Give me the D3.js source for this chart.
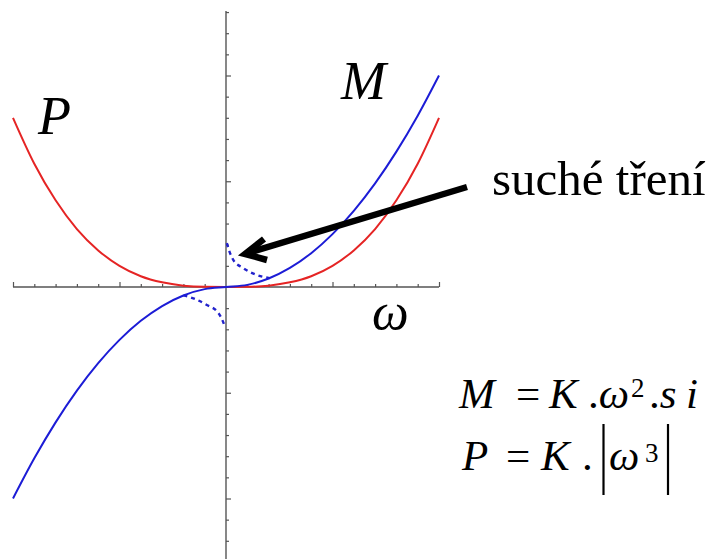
<!DOCTYPE html>
<html>
<head>
<meta charset="utf-8">
<script src="https://cdn.jsdelivr.net/npm/d3@7"></script>
<style>
  html, body { margin: 0; padding: 0; background: #fff; }
  svg { display: block; }
  text { font-family: "Liberation Serif", "Times New Roman", serif; fill: #000; }
</style>
</head>
<body>
<svg id="chart" width="706" height="559"></svg>
<script>
// angular speed samples
const omega = [-1, -0.9, -0.8, -0.7, -0.6, -0.5, -0.4, -0.3, -0.2, -0.1, 0,
               0.1, 0.2, 0.3, 0.4, 0.5, 0.6, 0.7, 0.8, 0.9, 1];
// torque M (blue)
const torqueM = [-1, -0.81, -0.64, -0.49, -0.36, -0.25, -0.16, -0.09, -0.04, -0.01, 0,
                 0.01, 0.04, 0.09, 0.16, 0.25, 0.36, 0.49, 0.64, 0.81, 1];
// power P (red)
const powerP = [0.8, 0.583, 0.41, 0.274, 0.173, 0.1, 0.051, 0.022, 0.0064, 0.0008, 0,
                0.0008, 0.0064, 0.022, 0.051, 0.1, 0.173, 0.274, 0.41, 0.583, 0.8];
// dry friction branches (dashed blue)
const frictionUpW = [0.004, 0.019, 0.034, 0.08, 0.144, 0.205];
const frictionUpM = [0.207, 0.16, 0.128, 0.09, 0.057, 0.042];
const frictionDownW = [-0.004, -0.02, -0.038, -0.09, -0.15, -0.2];
const frictionDownM = [-0.19, -0.15, -0.12, -0.085, -0.055, -0.04];
// axis tick values
const xTicks = d3.range(-10, 11).filter(d => d !== 0).map(d => d / 10);
const yTicks = d3.range(-12, 14).filter(d => d !== 0).map(d => d / 10);

const svg = d3.select("#chart");

const x = d3.scaleLinear().domain([-1, 1]).range([13, 439]);
const y = d3.scaleLinear().domain([-1, 1]).range([498.5, 75.5]);

const isMajor = v => Math.abs(Math.round(v * 10) % 5) === 0;

// x axis, ticks pointing up
const xAxis = svg.append("g").attr("transform", `translate(0,${y(0)})`)
  .call(d3.axisTop(x).tickValues(xTicks).tickFormat("").tickSizeOuter(0));
xAxis.select(".domain").remove();
xAxis.selectAll(".tick line")
  .attr("y2", d => isMajor(d) ? -5 : -3)
  .attr("stroke", "#555").attr("stroke-width", 1.2);
svg.append("line")
  .attr("x1", x(-1)).attr("x2", x(1))
  .attr("y1", y(0)).attr("y2", y(0))
  .attr("stroke", "#555").attr("stroke-width", 1.4);

// y axis, ticks pointing right
const yAxis = svg.append("g").attr("transform", `translate(${x(0)},0)`)
  .call(d3.axisRight(y).tickValues(yTicks).tickFormat("").tickSizeOuter(0));
yAxis.select(".domain").remove();
yAxis.selectAll(".tick line")
  .attr("x2", d => isMajor(d) ? 5 : 3)
  .attr("stroke", "#555").attr("stroke-width", 1.2);
svg.append("line")
  .attr("x1", x(0)).attr("x2", x(0))
  .attr("y1", y(1.305)).attr("y2", 559)
  .attr("stroke", "#555").attr("stroke-width", 1.4);

const line = d3.line().x(d => x(d[0])).y(d => y(d[1])).curve(d3.curveMonotoneX);

// dashed friction branches
svg.append("path")
  .attr("d", line(d3.zip(frictionUpW, frictionUpM)))
  .attr("fill", "none").attr("stroke", "#2222cc")
  .attr("stroke-width", 2.4).attr("stroke-dasharray", "4,4");
svg.append("path")
  .attr("d", line(d3.zip(frictionDownW, frictionDownM).reverse()))
  .attr("fill", "none").attr("stroke", "#2222cc")
  .attr("stroke-width", 2.4).attr("stroke-dasharray", "4,4");

// P curve
svg.append("path")
  .attr("d", line(d3.zip(omega, powerP)))
  .attr("fill", "none").attr("stroke", "#e52424").attr("stroke-width", 2);

// M curve
svg.append("path")
  .attr("d", line(d3.zip(omega, torqueM)))
  .attr("fill", "none").attr("stroke", "#1c1cd6").attr("stroke-width", 2);

// arrow pointing at the friction branch
const tip = [245, 254];
svg.append("line")
  .attr("x1", 467).attr("y1", 187).attr("x2", tip[0] + 3).attr("y2", tip[1] - 1)
  .attr("stroke", "#000").attr("stroke-width", 6.5);
svg.append("path")
  .attr("d", `M264,239 L${tip[0]},${tip[1]} L267,260`)
  .attr("fill", "none").attr("stroke", "#000").attr("stroke-width", 6.5)
  .attr("stroke-linejoin", "miter").attr("stroke-linecap", "butt");

// labels
svg.append("text").attr("x", 38).attr("y", 134)
  .attr("font-size", 54).attr("font-style", "italic").text("P");
svg.append("text").attr("x", 341).attr("y", 99)
  .attr("font-size", 54).attr("font-style", "italic").text("M");
svg.append("text").attr("x", 372).attr("y", 329)
  .attr("font-size", 52).attr("font-style", "italic").text("ω");
svg.append("text").attr("x", 492).attr("y", 195)
  .attr("font-size", 49).text("suché tření");

// formulas: each piece is a tspan placed at its own x
function formula(py, pieces) {
  const t = svg.append("text").attr("y", py).attr("font-size", 43);
  pieces.forEach(p => {
    const s = t.append("tspan").attr("x", p.x)
      .attr("font-style", p.it ? "italic" : "normal");
    if (p.dot) s.append("tspan").attr("font-style", "normal").text(".");
    s.append("tspan").text(p.s);
    if (p.sup) s.attr("font-size", 27).attr("y", py - p.sup);
    else s.attr("y", py);
  });
}
// M = K.ω².si
formula(408, [
  { s: "M", x: 459, it: true },
  { s: "=", x: 516 },
  { s: "K", x: 549, it: true },
  { s: "ω", x: 588, it: true, dot: true },
  { s: "2", x: 631, sup: 11 },
  { s: "s", x: 649, it: true, dot: true },
  { s: "i", x: 686, it: true }
]);
// P = K.|ω³|
formula(470, [
  { s: "P", x: 462, it: true },
  { s: "=", x: 506 },
  { s: "K", x: 541, it: true },
  { s: ".", x: 582 },
  { s: "ω", x: 609, it: true },
  { s: "3", x: 645, sup: 8 }
]);

// absolute value bars
svg.append("line").attr("x1", 603.5).attr("x2", 603.5).attr("y1", 424).attr("y2", 495)
  .attr("stroke", "#000").attr("stroke-width", 2.2);
svg.append("line").attr("x1", 668).attr("x2", 668).attr("y1", 424).attr("y2", 495)
  .attr("stroke", "#000").attr("stroke-width", 2.2);
</script>
</body>
</html>
